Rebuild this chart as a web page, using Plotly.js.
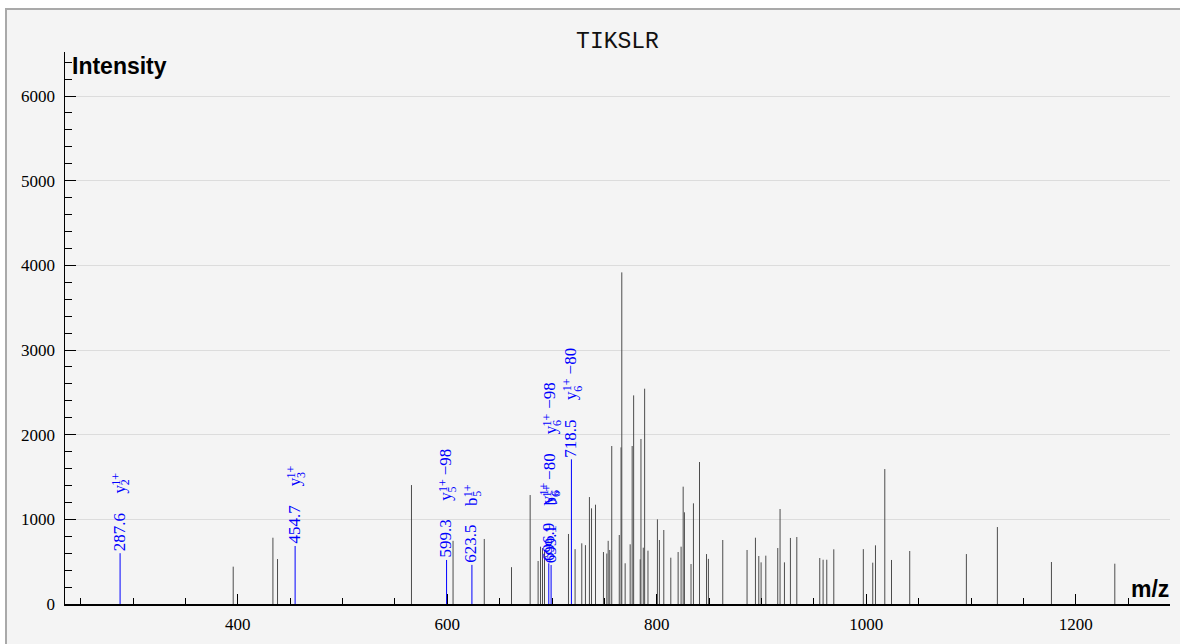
<!DOCTYPE html>
<html><head><meta charset="utf-8">
<script src="https://cdn.plot.ly/plotly-3.0.1.min.js"></script>
<style>
html,body{margin:0;padding:0;background:#fff;width:1180px;height:644px;overflow:hidden;}
#frame{position:absolute;left:5px;top:8px;width:1300px;height:800px;border:2px solid #a9a9a9;background:#f4f4f4;overflow:hidden;}
#chart{position:absolute;left:-7px;top:-10px;width:1180px;height:644px;}
</style></head><body>
<div id="frame"><div id="chart"></div></div>
<script>
// unmatched peaks
const peakMz = [395.6,433.5,437.9,565.8,605.5,635.3,661.3,679.1,686.7,689.0,690.9,692.8,715.7,722.0,728.4,731.9,735.7,737.7,741.5,749.1,752.3,753.6,755.1,757.0,764.2,765.9,766.6,769.8,774.6,776.5,777.9,784.2,784.9,787.1,788.4,791.6,800.6,802.5,806.7,813.4,820.4,823.2,825.2,826.4,832.7,835.0,840.8,847.5,849.3,863.0,886.2,894.2,897.4,899.6,904.1,915.5,917.7,921.9,927.6,933.7,955.6,958.8,962.3,969.0,997.2,1006.2,1008.8,1017.7,1024.1,1041.5,1095.6,1125.2,1176.8,1237.3];
const peakIntensity = [441,783,531,1405,746,768,435,1287,508,677,661,638,827,648,717,695,1263,1130,1173,614,596,746,638,1866,815,1850,3917,481,705,1866,2464,528,1949,665,2543,630,1000,756,874,547,614,677,1386,1083,472,1189,1677,590,533,756,638,783,567,492,571,661,1122,492,780,791,543,523,523,646,648,488,693,1594,520,626,590,909,496,476];

// matched (annotated) peaks
const matchedMz = [287.6,454.7,599.3,623.5,696.9,699.1,718.5];
const matchedIntensity = [600,685,520,462,481,460,1709];
const matchedMassLabels = ["287.6","454.7","599.3","623.5","696.9","699.1","718.5"];
// each ion label: [ion letter, subscript, superscript, neutral loss]
const matchedIons = [
  [["y","2","1+",""]],
  [["y","3","1+",""]],
  [["y","5","1+","−98"]],
  [["b","5","1+",""]],
  [["y","6","1+",""]],
  [["b","6","1+","−80"],["y","6","1+","−98"]],
  [["y","6","1+","−80"]]
];

const titleText = "TIKSLR";
const xTitle = "m/z";
const yTitle = "Intensity";

function stems(xs, ys){
  const X=[],Y=[];
  xs.forEach((v,i)=>{X.push(v,v,null);Y.push(0,ys[i],null);});
  return {x:X,y:Y};
}
const s1 = stems(peakMz, peakIntensity);
const s2 = stems(matchedMz, matchedIntensity);

const traces = [
  {x:s1.x,y:s1.y,type:'scatter',mode:'lines',line:{color:'#4d4d4d',width:1},hoverinfo:'skip',showlegend:false},
  {x:s2.x,y:s2.y,type:'scatter',mode:'lines',line:{color:'#0000ff',width:1},hoverinfo:'skip',showlegend:false}
];

const SERIF = "Liberation Serif";
const BIG = 17, SMALL = 12, BLUE = '#0000ff';
const ctx = document.createElement('canvas').getContext('2d');
function tw(t,size){ctx.font = size+"px '"+SERIF+"'";return ctx.measureText(t).width;}
function lab(x,y,text,size,xs,ys){
  return {x:x,y:y,xref:'x',yref:'y',text:text,showarrow:false,textangle:-90,
    xanchor:'center',yanchor:'bottom',xshift:xs,yshift:ys,borderpad:0,borderwidth:0,
    font:{family:SERIF,size:size,color:BLUE}};
}
const annotations = [];
const GAP0 = 2, GAP = 19, XS = -1;
matchedMz.forEach((m,i)=>{
  const it = matchedIntensity[i];
  let s = GAP0;
  annotations.push(lab(m,it,matchedMassLabels[i],BIG,XS,s));
  s += tw(matchedMassLabels[i],BIG) + GAP;
  matchedIons[i].forEach(ion=>{
    const [base,sub,sup,loss] = ion;
    annotations.push(lab(m,it,base,BIG,XS,s));
    const wb = tw(base,BIG);
    annotations.push(lab(m,it,sup,SMALL,XS-3.3,s+wb));
    annotations.push(lab(m,it,sub,SMALL,XS+6.7,s+wb));
    let e = s + wb + Math.max(tw(sup,SMALL),tw(sub,SMALL));
    if(loss){
      e += tw(' ',BIG);
      annotations.push(lab(m,it,loss,BIG,XS,e));
      e += tw(loss,BIG);
    }
    s = e + GAP;
  });
});
annotations.push({xref:'paper',yref:'paper',x:(71-65)/1105,y:1,xanchor:'left',yanchor:'top',yshift:0,
  text:'<b>'+yTitle+'</b>',showarrow:false,borderpad:0,font:{family:'Liberation Sans',size:23,color:'#000'}});
annotations.push({xref:'paper',yref:'paper',x:1,y:0,xanchor:'right',yanchor:'bottom',yshift:1,
  text:'<b>'+xTitle+'</b>',showarrow:false,borderpad:0,font:{family:'Liberation Sans',size:23,color:'#000'}});

const layout = {
  width:1180,height:644,
  margin:{l:65,r:10,t:52,b:40,pad:0},
  paper_bgcolor:'rgba(0,0,0,0)',plot_bgcolor:'rgba(0,0,0,0)',
  title:{text:titleText,font:{family:'Liberation Mono',size:23,color:'#111'},x:0.5,xref:'paper',xanchor:'center',y:1-40/644,yref:'container',yanchor:'middle'},
  xaxis:{range:[235,1290],showgrid:false,zeroline:false,showline:true,linecolor:'#000',linewidth:1.5,
    ticks:'inside',ticklen:10,tickwidth:1,tickcolor:'#000',tick0:0,dtick:200,
    minor:{ticks:'inside',ticklen:6,tickwidth:1,tickcolor:'#000',dtick:50,tick0:0,showgrid:false},
    tickfont:{family:SERIF,size:17,color:'#000'},ticklabelstandoff:4,fixedrange:true},
  yaxis:{range:[0,6520],showgrid:true,gridcolor:'#dcdcdc',gridwidth:1,zeroline:false,showline:true,linecolor:'#000',linewidth:1.5,
    ticks:'inside',ticklen:11,tickwidth:1,tickcolor:'#000',tick0:0,dtick:1000,
    minor:{ticks:'inside',ticklen:7,tickwidth:1,tickcolor:'#000',dtick:200,tick0:0,showgrid:false},
    tickfont:{family:SERIF,size:17,color:'#000'},ticklabelstandoff:5,fixedrange:true},
  annotations:annotations,
  showlegend:false
};
Plotly.newPlot('chart',traces,layout,{displayModeBar:false,staticPlot:true});
</script>
</body></html>
